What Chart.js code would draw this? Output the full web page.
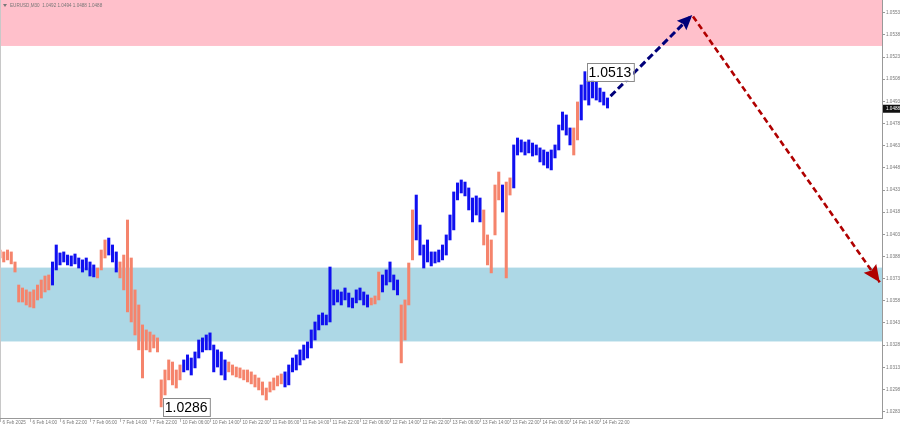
<!DOCTYPE html>
<html><head><meta charset="utf-8">
<script src="https://cdn.jsdelivr.net/npm/chart.js@4.4.1/dist/chart.umd.min.js"></script>
<style>html,body{margin:0;padding:0;background:#fff;}#wrap{width:900px;height:430px;position:relative;}</style>
</head><body><div id="wrap"><canvas id="c" width="900" height="430"></canvas></div>
<script>
// ---- data ----
const barHigh = [1.03924,1.03911,1.03924,1.03911,1.03843,1.03687,1.03667,1.03654,1.03640,1.03654,
1.03687,1.03721,1.03748,1.03755,1.03843,1.03958,1.03904,1.03911,1.03890,1.03884,
1.03897,1.03870,1.03857,1.03870,1.03843,1.03823,1.03802,1.03924,1.03992,1.04005,
1.03958,1.03911,1.03843,1.03890,1.04127,1.03870,1.03654,1.03552,1.03417,1.03383,
1.03369,1.03349,1.03329,1.03045,1.03112,1.03180,1.03166,1.03112,1.03146,1.03180,
1.03214,1.03193,1.03234,1.03315,1.03329,1.03349,1.03363,1.03281,1.03248,1.03234,
1.03180,1.03166,1.03146,1.03132,1.03126,1.03112,1.03112,1.03099,1.03078,1.03058,
1.03031,1.02990,1.03031,1.03058,1.03072,1.03085,1.03099,1.03146,1.03193,1.03214,
1.03248,1.03281,1.03302,1.03383,1.03437,1.03484,1.03498,1.03484,1.03809,1.03654,
1.03654,1.03640,1.03667,1.03633,1.03599,1.03654,1.03667,1.03640,1.03620,1.03599,
1.03613,1.03775,1.03755,1.03789,1.03843,1.03755,1.03721,1.03552,1.03586,1.03836,
1.04195,1.04296,1.04093,1.03958,1.03992,1.03911,1.03911,1.03924,1.03958,1.04026,
1.04161,1.04317,1.04378,1.04398,1.04384,1.04344,1.04276,1.04290,1.04276,1.04195,
1.04026,1.03992,1.04364,1.04452,1.04364,1.04384,1.04412,1.04635,1.04682,1.04669,
1.04655,1.04669,1.04648,1.04635,1.04615,1.04601,1.04587,1.04601,1.04635,1.04770,
1.04858,1.04838,1.04750,1.04750,1.04926,1.05041,1.05131,1.05109,1.05088,1.05061,
1.05020,1.04993,1.04953];
const barLow = [1.03870,1.03843,1.03857,1.03830,1.03775,1.03572,1.03572,1.03552,1.03538,1.03532,
1.03586,1.03599,1.03640,1.03654,1.03687,1.03789,1.03823,1.03843,1.03823,1.03816,
1.03830,1.03802,1.03775,1.03789,1.03748,1.03742,1.03735,1.03789,1.03870,1.03890,
1.03843,1.03775,1.03735,1.03654,1.03505,1.03437,1.03349,1.03248,1.03058,1.03248,
1.03234,1.03261,1.03234,1.02862,1.02943,1.03045,1.03011,1.02990,1.03045,1.03099,
1.03112,1.03078,1.03126,1.03193,1.03234,1.03248,1.03248,1.03099,1.03132,1.03078,
1.03045,1.03099,1.03078,1.03065,1.03058,1.03045,1.03031,1.03018,1.02997,1.02977,
1.02943,1.02909,1.02963,1.02977,1.03004,1.03018,1.02997,1.03011,1.03099,1.03112,
1.03146,1.03180,1.03193,1.03261,1.03315,1.03383,1.03417,1.03417,1.03437,1.03552,
1.03572,1.03552,1.03586,1.03538,1.03532,1.03566,1.03586,1.03552,1.03538,1.03552,
1.03559,1.03586,1.03640,1.03687,1.03708,1.03654,1.03620,1.03160,1.03315,1.03552,
1.03857,1.03992,1.03890,1.03802,1.03843,1.03816,1.03836,1.03843,1.03857,1.03890,
1.03992,1.04060,1.04263,1.04310,1.04290,1.04195,1.04114,1.04161,1.04114,1.03958,
1.03823,1.03769,1.04026,1.04263,1.04181,1.03735,1.04296,1.04344,1.04567,1.04587,
1.04567,1.04581,1.04560,1.04567,1.04520,1.04499,1.04479,1.04466,1.04547,1.04601,
1.04736,1.04702,1.04635,1.04567,1.04669,1.04804,1.04939,1.04905,1.04953,1.04939,
1.04926,1.04905,1.04885];
// wave direction changes: [first bar index, direction]
const waveTurns = [[0,'down'],[14,'up'],[26,'down'],[29,'up'],[32,'down'],[49,'up'],[61,'down'],[76,'up'],
[99,'down'],[102,'up'],[107,'down'],[111,'up'],[129,'down'],[134,'up'],[135,'down'],[137,'up'],[153,'down'],[155,'up']];
const tickLabels = ['6 Feb 2025','6 Feb 14:00','6 Feb 22:00','7 Feb 06:00','7 Feb 14:00','7 Feb 22:00',
'10 Feb 06:00','10 Feb 14:00','10 Feb 22:00','11 Feb 06:00','11 Feb 14:00','11 Feb 22:00',
'12 Feb 06:00','12 Feb 14:00','12 Feb 22:00','13 Feb 06:00','13 Feb 14:00','13 Feb 22:00',
'14 Feb 06:00','14 Feb 14:00','14 Feb 22:00'];
const hoursPerTick = 8;
const priceTicks = [1.0283,1.0298,1.0313,1.0328,1.0343,1.0358,1.0373,1.0388,1.0403,1.0418,
1.0433,1.0448,1.0463,1.0478,1.0493,1.0508,1.0523,1.0538,1.0553];
const priceRange = [1.02787, 1.05616];
const hourRange = [0, 235.2];
const resistanceZone = [1.05305, 1.05616];
const supportZone = [1.03305, 1.03805];
const forecastUpX = [162.8, 184.6];
const forecastUpY = [1.04965, 1.05515];
const forecastDownX = [184.8, 234.6];
const forecastDownY = [1.05505, 1.03705];
const extremeLabels = [{bar:156, price:1.0513, text:'1.0513'}, {bar:43, price:1.0286, text:'1.0286'}];
const lastPrice = 1.0488;
const headerText = 'EURUSD,M30  1.0492 1.0494 1.0488 1.0488';

// ---- styles ----
const COL_DOWN = '#F5846C', COL_UP = '#1010F0';
function dirAt(i){ let d='down'; for(const t of waveTurns){ if(t[0]<=i) d=t[1]; } return d; }

const zonesPlugin = {
  id:'zones',
  beforeDatasetsDraw(chart){
    const {ctx, chartArea:a, scales:{y}} = chart;
    ctx.save();
    ctx.beginPath(); ctx.rect(a.left,a.top,a.right-a.left,a.bottom-a.top); ctx.clip();
    const band=(z,c)=>{ const t=y.getPixelForValue(z[1]), b=y.getPixelForValue(z[0]); ctx.fillStyle=c; ctx.fillRect(a.left,t,a.right-a.left,b-t); };
    band(resistanceZone,'#FFC0CB');
    band(supportZone,'#ADD8E6');
    ctx.restore();
  }
};
const decoPlugin = {
  id:'deco',
  afterDatasetsDraw(chart){
    const {ctx} = chart;
    chart.data.datasets.forEach((ds,di)=>{
      if(!ds.arrowHead) return;
      const pts = chart.getDatasetMeta(di).data;
      const p1 = pts[pts.length-2], p2 = pts[pts.length-1];
      const ang = Math.atan2(p2.y-p1.y, p2.x-p1.x);
      const L = ds.arrowHead, W = ds.arrowHead*0.45;
      ctx.save();
      ctx.translate(p2.x,p2.y); ctx.rotate(ang);
      ctx.fillStyle = ds.borderColor;
      ctx.beginPath(); ctx.moveTo(0,0); ctx.lineTo(-L,-W); ctx.lineTo(-L*0.85,0); ctx.lineTo(-L,W); ctx.closePath(); ctx.fill();
      ctx.restore();
    });
  },
  afterDraw(chart){
    const {ctx, chartArea:a, scales:{x,y}} = chart;
    ctx.save();
    ctx.strokeStyle='#c8c8c8'; ctx.lineWidth=1;
    ctx.beginPath(); ctx.moveTo(a.left+0.5,a.top); ctx.lineTo(a.left+0.5,a.bottom); ctx.stroke();
    ctx.fillStyle='#777';
    ctx.beginPath(); ctx.moveTo(3,4); ctx.lineTo(7,4); ctx.lineTo(5,7); ctx.closePath(); ctx.fill();
    ctx.font='4.6px "Liberation Sans", Arial, sans-serif';
    ctx.textBaseline='middle'; ctx.textAlign='left';
    ctx.fillText(headerText, 10, 5.5);
    ctx.font='14px "Liberation Sans", Arial, sans-serif';
    extremeLabels.forEach(l=>{
      const px = x.getPixelForValue(l.bar)+1.5, py = y.getPixelForValue(l.price);
      const w = ctx.measureText(l.text).width + 4, h = 18;
      ctx.fillStyle='#fff'; ctx.fillRect(px, py-h/2, w, h);
      ctx.strokeStyle='#8a8a8a'; ctx.lineWidth=1; ctx.strokeRect(Math.round(px)+0.5, Math.round(py-h/2)+0.5, w, h);
      ctx.fillStyle='#000'; ctx.textBaseline='middle'; ctx.fillText(l.text, px+2, py+1);
    });
    const ly = y.getPixelForValue(lastPrice);
    ctx.fillStyle='#111'; ctx.fillRect(a.right+1, ly-4, 18, 8);
    ctx.fillStyle='#fff'; ctx.font='4.6px "Liberation Sans", Arial, sans-serif';
    ctx.fillText(lastPrice.toFixed(4), a.right+4, ly);
    ctx.restore();
  }
};

const bars = barHigh.map((h,i)=>({x:i, y:[barLow[i], h]}));
new Chart(document.getElementById('c'), {
  type:'bar',
  data:{ datasets:[
    { type:'line', data:forecastUpX.map((v,i)=>({x:v,y:forecastUpY[i]})), borderColor:'#00007A', borderWidth:3,
      borderDash:[7,3.5], pointRadius:0, fill:false, order:1, arrowHead:15 },
    { type:'line', data:forecastDownX.map((v,i)=>({x:v,y:forecastDownY[i]})), borderColor:'#B00000', borderWidth:2.6,
      borderDash:[6,3.5], pointRadius:0, fill:false, order:1, arrowHead:17 },
    { type:'bar', data:bars, barThickness:2.4, grouped:false, order:2,
      backgroundColor:bars.map((b,i)=>dirAt(i)==='up'?COL_UP:COL_DOWN), borderWidth:0 }
  ]},
  options:{
    responsive:false, animation:false, devicePixelRatio:1,
    layout:{padding:0},
    plugins:{legend:{display:false}, tooltip:{enabled:false}},
    scales:{
      x:{ type:'linear', min:hourRange[0], max:hourRange[1], offset:false,
        grid:{display:true, drawOnChartArea:false, tickLength:4, color:'#bbb', offset:false},
        border:{display:true, color:'#999'},
        afterBuildTicks:(s)=>{ s.ticks = tickLabels.map((_,k)=>({value:k*hoursPerTick})); },
        afterFit:(s)=>{ s.height=12; s.paddingLeft=0; s.paddingRight=0; },
        ticks:{ autoSkip:false, maxRotation:0, align:'start', padding:-2,
          font:{size:4.6, family:'"Liberation Sans", Arial, sans-serif'}, color:'#777',
          callback:(v)=>{ const k=Math.round(v/hoursPerTick); return '  '+(tickLabels[k]||''); } }
      },
      y:{ type:'linear', position:'right', min:priceRange[0], max:priceRange[1],
        grid:{display:true, drawOnChartArea:false, tickLength:3, color:'#999'},
        border:{display:true, color:'#999'},
        afterBuildTicks:(s)=>{ s.ticks = priceTicks.map(v=>({value:v})); },
        afterFit:(s)=>{ s.width=18; s.paddingTop=0; s.paddingBottom=0; },
        ticks:{ padding:1, font:{size:4.6, family:'"Liberation Sans", Arial, sans-serif'}, color:'#777',
          callback:(v)=>v.toFixed(4) }
      }
    }
  },
  plugins:[zonesPlugin, decoPlugin]
});
</script></body></html>
